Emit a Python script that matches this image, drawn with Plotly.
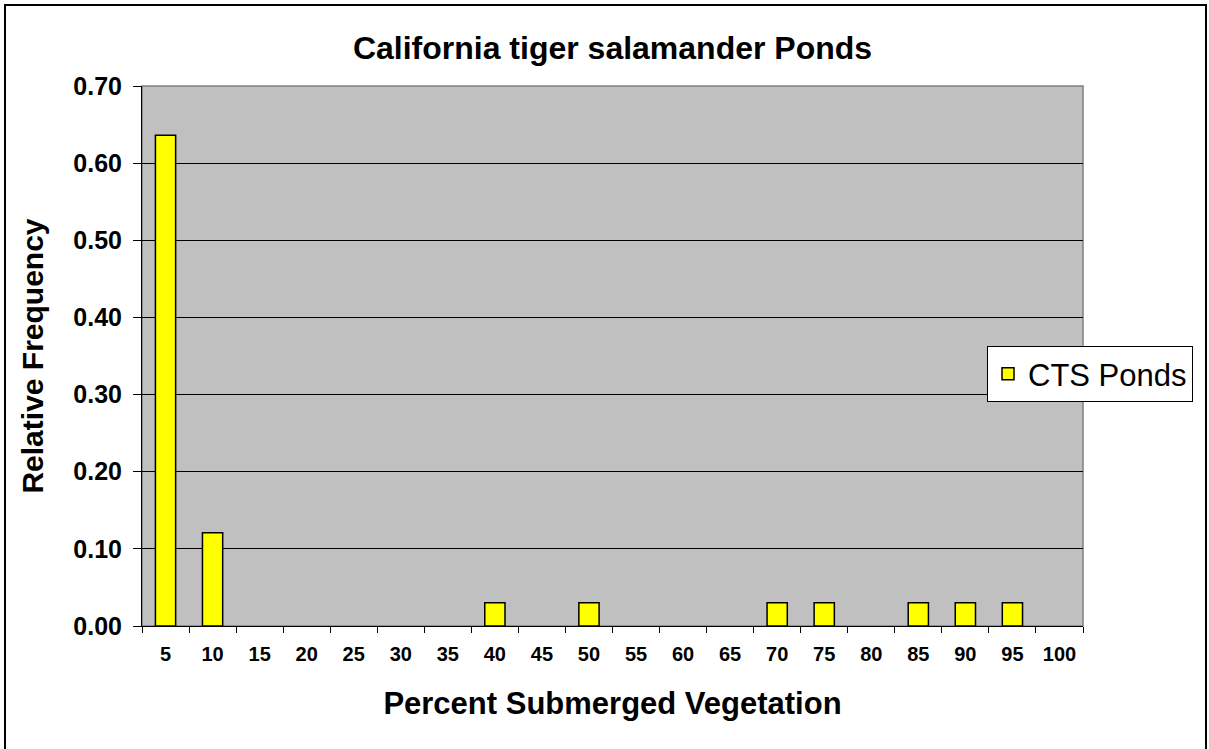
import plotly.graph_objects as go

categories = ["5", "10", "15", "20", "25", "30", "35", "40", "45", "50",
              "55", "60", "65", "70", "75", "80", "85", "90", "95", "100"]
values = [0.636, 0.121, 0, 0, 0, 0, 0, 0.0303, 0, 0.0303,
          0, 0, 0, 0.0303, 0.0303, 0, 0.0303, 0.0303, 0.0303, 0]
y_ticks = [0, 0.1, 0.2, 0.3, 0.4, 0.5, 0.6, 0.7]
y_ticktext = ["0.00", "0.10", "0.20", "0.30", "0.40", "0.50", "0.60", "0.70"]

FONT = "Liberation Sans, Arial, sans-serif"

# No outline for empty bins (so nothing is drawn at zero)
line_widths = [1.5 if v > 0 else 0 for v in values]

fig = go.Figure()
fig.add_trace(go.Bar(
    x=categories, y=values, name="CTS Ponds",
    marker=dict(color="#FFFF00", line=dict(color="black", width=line_widths)),
))

L, R, T, B = 142, 1083, 86, 626
W, H = 1209, 749
pw, ph = R - L, B - T

fig.update_layout(
    width=W, height=H,
    margin=dict(l=L, r=W - R, t=T, b=H - B, autoexpand=False),
    paper_bgcolor="white",
    plot_bgcolor="#C0C0C0",
    bargap=0.57,
    title=dict(text="<b>California tiger salamander Ponds</b>",
               x=(L + pw / 2) / W, xanchor="center",
               y=1 - 48 / H, yanchor="middle",
               font=dict(family=FONT, size=32, color="black")),
    showlegend=True,
    legend=dict(x=(987 - L) / pw, xanchor="left",
                y=(B - 346) / ph, yanchor="top",
                bgcolor="white", bordercolor="black", borderwidth=1,
                font=dict(family=FONT, size=31, color="black"),
                itemwidth=30, tracegroupgap=0),
    xaxis=dict(
        type="category", tickson="boundaries",
        ticks="outside", ticklen=6, tickcolor="black", tickwidth=1,
        ticklabelstandoff=10,
        showline=True, linecolor="black", linewidth=1,
        showgrid=False, automargin=False,
        tickfont=dict(family=FONT, size=20, color="black", weight="bold"),
        title=dict(text="<b>Percent Submerged Vegetation</b>",
                   font=dict(family=FONT, size=31, color="black"), standoff=28),
    ),
    yaxis=dict(
        range=[0, 0.7], tickvals=y_ticks, ticktext=y_ticktext,
        ticks="outside", ticklen=8, tickcolor="black", tickwidth=1,
        ticklabelstandoff=6,
        showline=True, linecolor="black", linewidth=1,
        showgrid=True, gridcolor="black", gridwidth=1,
        zeroline=False, automargin=False,
        tickfont=dict(family=FONT, size=25, color="black", weight="bold"),
        title=dict(text="<b>Relative Frequency</b>",
                   font=dict(family=FONT, size=30, color="black"), standoff=20),
    ),
    shapes=[
        dict(type="rect", xref="paper", yref="paper", x0=0, x1=1, y0=0, y1=1,
             line=dict(color="#808080", width=1.5), layer="below"),
        dict(type="rect", xref="paper", yref="paper",
             x0=(5 - L) / pw, x1=(1206 - L) / pw,
             y0=(B - 760) / ph, y1=(B - 5) / ph,
             line=dict(color="black", width=2)),
    ],
)

fig.write_html("out.html",
               config={"displayModeBar": False},
               post_script="document.body.style.margin='0px';"
                           "document.body.style.overflow='hidden';")
